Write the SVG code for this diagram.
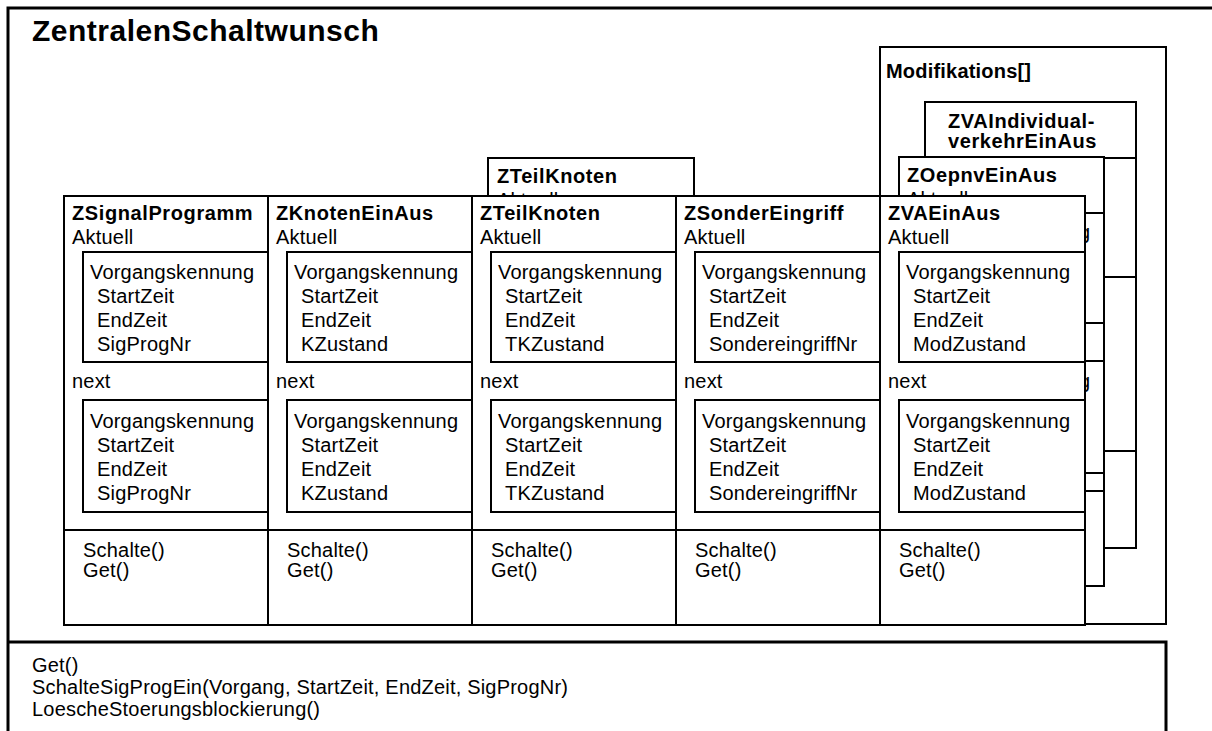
<svg xmlns="http://www.w3.org/2000/svg" width="1212" height="731" viewBox="0 0 1212 731">
<style>
text{font-family:"Liberation Sans",Arial,sans-serif;font-size:20px;letter-spacing:0.2px;fill:#000}
.b{font-weight:bold;letter-spacing:0.6px}
.h{font-size:30px;font-weight:bold;letter-spacing:0.5px}
.m{letter-spacing:0.2px}
.box{fill:#fff;stroke:#000;stroke-width:2}
.ln{fill:none;stroke:#000;stroke-width:2}
.frame{fill:none;stroke:#000;stroke-width:3}
</style>
<rect width="1212" height="731" fill="#fff"/>
<g id="ZentralenSchaltwunsch">
<path class="frame" d="M8,731 V8 H1212"/>
<text class="h" x="32" y="41">ZentralenSchaltwunsch</text>
</g>
<g id="methods">
<path class="frame" d="M8,642 H1166 V731"/>
<text class="m" x="32" y="672">Get()</text>
<text class="m" x="32" y="694">SchalteSigProgEin(Vorgang, StartZeit, EndZeit, SigProgNr)</text>
<text class="m" x="32" y="716">LoescheStoerungsblockierung()</text>
</g>
<g id="Modifikations">
<rect class="box" x="880" y="47" width="286" height="577"/>
<text class="b" x="886" y="78" style="letter-spacing:0.2px">Modifikations[]</text>
</g>
<g id="ZVAIndividualverkehrEinAus" transform="translate(925,102)">
<rect class="box" x="0" y="0" width="211" height="446"/>
<path class="ln" d="M0,56 H211 M0,175 H211 M0,349 H211"/>
<text class="b" x="23" y="26">ZVAIndividual-</text>
<text class="b" x="23" y="46">verkehrEinAus</text>
</g>
<g id="ZOepnvEinAus" transform="translate(899,157)">
<rect class="box" x="0" y="0" width="205" height="429"/>
<rect class="box" x="19" y="56" width="186" height="110"/>
<rect class="box" x="19" y="204" width="186" height="112"/>
<path class="ln" d="M0,334 H205"/>
<text class="b" x="8" y="25">ZOepnvEinAus</text>
<text x="8" y="49">Aktuell</text>
<text x="27" y="82">Vorgangskennung</text>
<text x="27" y="231">Vorgangskennung</text>
</g>
<g id="ZTeilKnoten_back" transform="translate(488,158)">
<rect class="box" x="0" y="0" width="206" height="429"/>
<text class="b" x="9" y="25">ZTeilKnoten</text>
<text x="9" y="49">Aktuell</text>
</g>
<g id="ZSignalProgramm" transform="translate(64,196)">
<rect class="box" x="0" y="0" width="204" height="429"/>
<rect class="box" x="19" y="56" width="185" height="110"/>
<rect class="box" x="19" y="204" width="185" height="112"/>
<path class="ln" d="M0,334 H204"/>
<text class="b" x="8" y="24">ZSignalProgramm</text>
<text x="8" y="48">Aktuell</text>
<text x="26" y="83">Vorgangskennung</text>
<text x="33" y="107">StartZeit</text>
<text x="33" y="131">EndZeit</text>
<text x="33" y="155">SigProgNr</text>
<text x="8" y="192">next</text>
<text x="26" y="232">Vorgangskennung</text>
<text x="33" y="256">StartZeit</text>
<text x="33" y="280">EndZeit</text>
<text x="33" y="304">SigProgNr</text>
<text x="19" y="361">Schalte()</text>
<text x="19" y="381">Get()</text>
</g>
<g id="ZKnotenEinAus" transform="translate(268,196)">
<rect class="box" x="0" y="0" width="204" height="429"/>
<rect class="box" x="19" y="56" width="185" height="110"/>
<rect class="box" x="19" y="204" width="185" height="112"/>
<path class="ln" d="M0,334 H204"/>
<text class="b" x="8" y="24">ZKnotenEinAus</text>
<text x="8" y="48">Aktuell</text>
<text x="26" y="83">Vorgangskennung</text>
<text x="33" y="107">StartZeit</text>
<text x="33" y="131">EndZeit</text>
<text x="33" y="155">KZustand</text>
<text x="8" y="192">next</text>
<text x="26" y="232">Vorgangskennung</text>
<text x="33" y="256">StartZeit</text>
<text x="33" y="280">EndZeit</text>
<text x="33" y="304">KZustand</text>
<text x="19" y="361">Schalte()</text>
<text x="19" y="381">Get()</text>
</g>
<g id="ZTeilKnoten" transform="translate(472,196)">
<rect class="box" x="0" y="0" width="204" height="429"/>
<rect class="box" x="19" y="56" width="185" height="110"/>
<rect class="box" x="19" y="204" width="185" height="112"/>
<path class="ln" d="M0,334 H204"/>
<text class="b" x="8" y="24">ZTeilKnoten</text>
<text x="8" y="48">Aktuell</text>
<text x="26" y="83">Vorgangskennung</text>
<text x="33" y="107">StartZeit</text>
<text x="33" y="131">EndZeit</text>
<text x="33" y="155">TKZustand</text>
<text x="8" y="192">next</text>
<text x="26" y="232">Vorgangskennung</text>
<text x="33" y="256">StartZeit</text>
<text x="33" y="280">EndZeit</text>
<text x="33" y="304">TKZustand</text>
<text x="19" y="361">Schalte()</text>
<text x="19" y="381">Get()</text>
</g>
<g id="ZSonderEingriff" transform="translate(676,196)">
<rect class="box" x="0" y="0" width="204" height="429"/>
<rect class="box" x="19" y="56" width="185" height="110"/>
<rect class="box" x="19" y="204" width="185" height="112"/>
<path class="ln" d="M0,334 H204"/>
<text class="b" x="8" y="24">ZSonderEingriff</text>
<text x="8" y="48">Aktuell</text>
<text x="26" y="83">Vorgangskennung</text>
<text x="33" y="107">StartZeit</text>
<text x="33" y="131">EndZeit</text>
<text x="33" y="155">SondereingriffNr</text>
<text x="8" y="192">next</text>
<text x="26" y="232">Vorgangskennung</text>
<text x="33" y="256">StartZeit</text>
<text x="33" y="280">EndZeit</text>
<text x="33" y="304">SondereingriffNr</text>
<text x="19" y="361">Schalte()</text>
<text x="19" y="381">Get()</text>
</g>
<g id="ZVAEinAus" transform="translate(880,196)">
<rect class="box" x="0" y="0" width="205" height="429"/>
<rect class="box" x="19" y="56" width="186" height="110"/>
<rect class="box" x="19" y="204" width="186" height="112"/>
<path class="ln" d="M0,334 H205"/>
<text class="b" x="8" y="24">ZVAEinAus</text>
<text x="8" y="48">Aktuell</text>
<text x="26" y="83">Vorgangskennung</text>
<text x="33" y="107">StartZeit</text>
<text x="33" y="131">EndZeit</text>
<text x="33" y="155">ModZustand</text>
<text x="8" y="192">next</text>
<text x="26" y="232">Vorgangskennung</text>
<text x="33" y="256">StartZeit</text>
<text x="33" y="280">EndZeit</text>
<text x="33" y="304">ModZustand</text>
<text x="19" y="361">Schalte()</text>
<text x="19" y="381">Get()</text>
</g>
<g id="connectors"/>
</svg>
